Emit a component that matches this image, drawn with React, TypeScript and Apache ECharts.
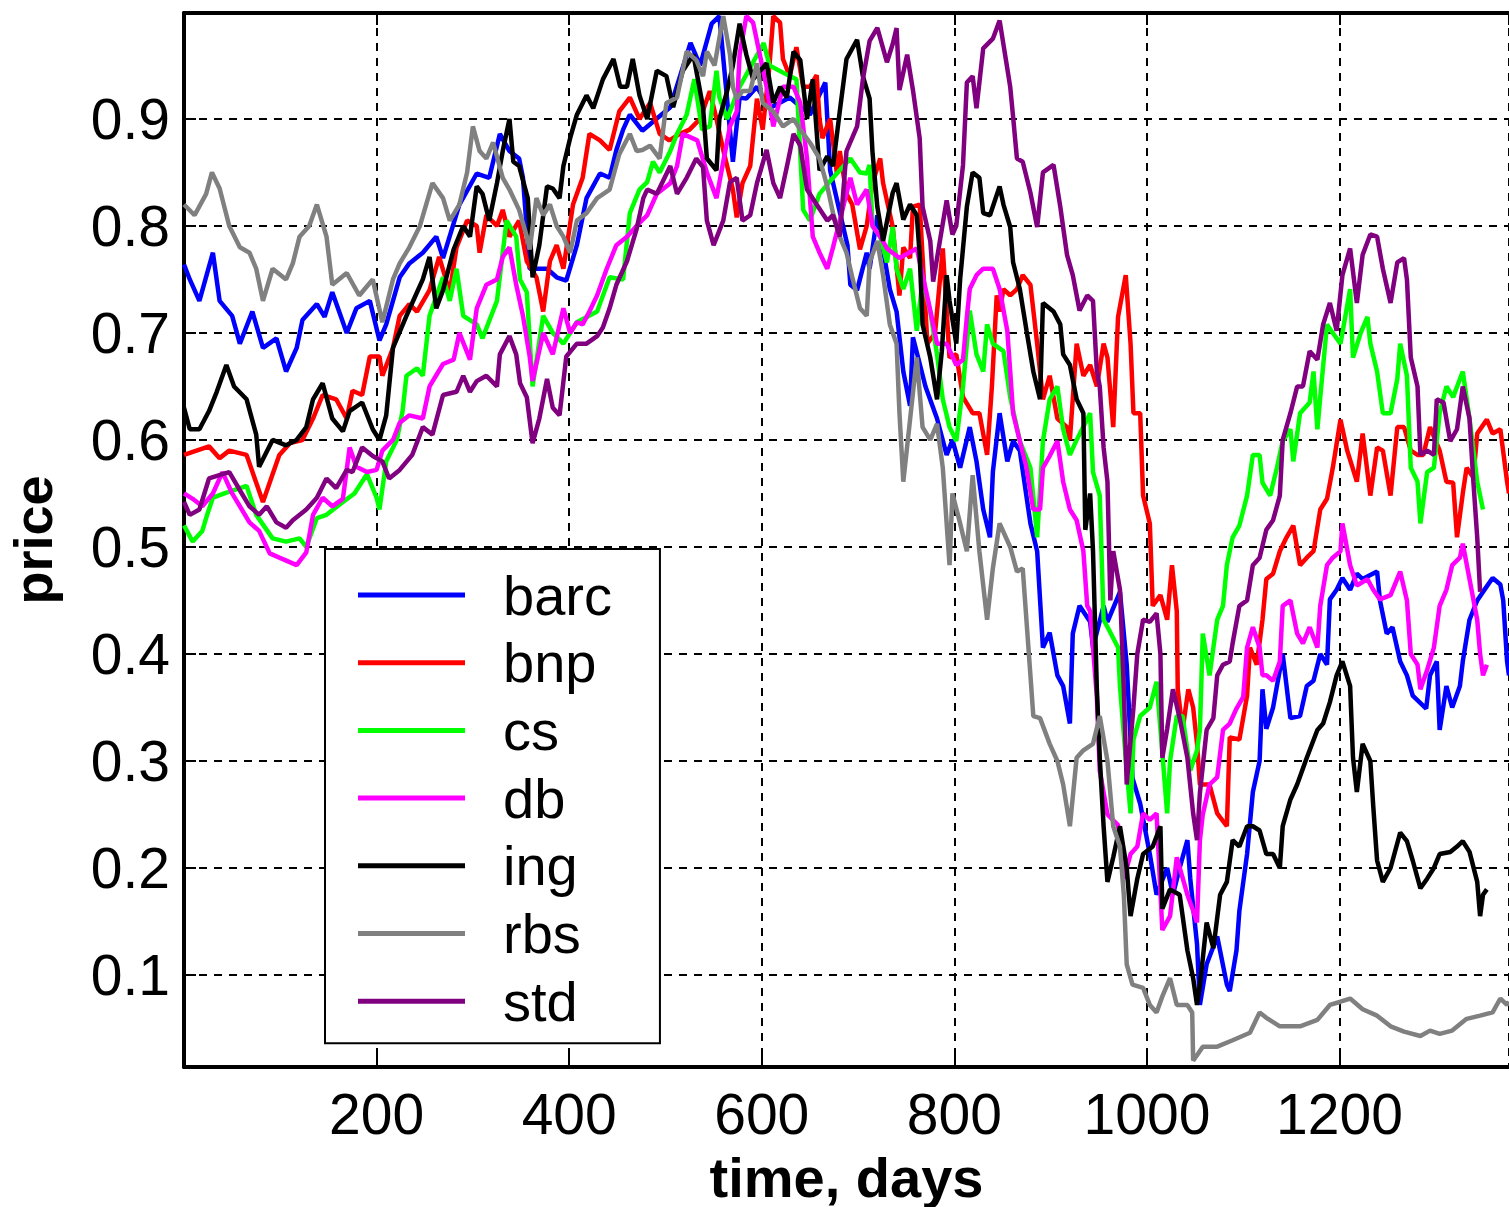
import React, { useEffect, useRef } from "react";
import * as echarts from "echarts";

const names = ["barc", "bnp", "cs", "db", "ing", "rbs", "std"];
const colors = ["#0000ff", "#ff0000", "#00ff00", "#ff00ff", "#000000", "#808080", "#800080"];
const xTicks = [200, 400, 600, 800, 1000, 1200];
const yTicks = [0.1, 0.2, 0.3, 0.4, 0.5, 0.6, 0.7, 0.8, 0.9];

const barc = [[0,0.764],[6,0.75],[16,0.73],[30,0.775],[37,0.73],[50,0.716],[58,0.69],[71,0.72],[82,0.686],[96,0.695],[106,0.664],[117,0.686],[123,0.712],[138,0.727],[146,0.715],[154,0.738],[169,0.70],[179,0.723],[193,0.73],[203,0.693],[210,0.708],[224,0.752],[234,0.765],[248,0.775],[262,0.79],[269,0.77],[286,0.82],[304,0.849],[317,0.845],[328,0.886],[338,0.87],[348,0.863],[352,0.845],[359,0.76],[377,0.76],[387,0.752],[397,0.749],[408,0.782],[418,0.826],[432,0.849],[442,0.845],[449,0.871],[456,0.89],[463,0.904],[476,0.889],[505,0.911],[526,0.971],[536,0.95],[548,0.989],[556,0.996],[570,0.86],[577,0.92],[584,0.919],[595,0.93],[608,0.91],[629,0.92],[650,0.904],[666,0.934],[671,0.852],[689,0.782],[692,0.745],[699,0.74],[709,0.775],[712,0.76],[720,0.81],[733,0.741],[740,0.72],[747,0.664],[754,0.632],[757,0.696],[770,0.65],[782,0.62],[792,0.586],[798,0.6],[806,0.574],[816,0.612],[823,0.58],[830,0.535],[837,0.509],[840,0.57],[847,0.625],[855,0.58],[861,0.599],[868,0.59],[879,0.522],[886,0.496],[892,0.406],[899,0.42],[907,0.38],[913,0.37],[920,0.335],[923,0.419],[930,0.445],[941,0.43],[944,0.406],[955,0.445],[959,0.43],[972,0.458],[979,0.39],[985,0.284],[993,0.26],[1003,0.213],[1010,0.175],[1021,0.2],[1027,0.175],[1034,0.2],[1042,0.226],[1045,0.19],[1052,0.129],[1055,0.072],[1062,0.11],[1073,0.136],[1083,0.091],[1086,0.085],[1093,0.123],[1096,0.16],[1104,0.213],[1110,0.271],[1117,0.3],[1120,0.367],[1124,0.33],[1131,0.35],[1141,0.40],[1149,0.34],[1159,0.342],[1166,0.37],[1173,0.375],[1180,0.40],[1187,0.39],[1190,0.451],[1197,0.46],[1203,0.471],[1211,0.46],[1218,0.475],[1224,0.47],[1239,0.477],[1242,0.45],[1249,0.419],[1255,0.425],[1263,0.393],[1270,0.38],[1276,0.361],[1283,0.355],[1290,0.349],[1294,0.38],[1301,0.393],[1304,0.329],[1311,0.37],[1317,0.35],[1325,0.37],[1328,0.393],[1335,0.432],[1343,0.45],[1349,0.458],[1359,0.471],[1367,0.465],[1370,0.45],[1374,0.393],[1376,0.38]];

const bnp = [[0,0.586],[13,0.59],[26,0.594],[37,0.583],[47,0.59],[65,0.586],[75,0.56],[82,0.542],[92,0.568],[99,0.586],[110,0.597],[123,0.60],[134,0.62],[144,0.642],[158,0.638],[169,0.62],[175,0.646],[185,0.642],[193,0.678],[203,0.678],[206,0.66],[217,0.686],[224,0.716],[234,0.727],[242,0.72],[255,0.74],[265,0.771],[276,0.738],[283,0.78],[294,0.805],[304,0.80],[307,0.775],[314,0.81],[325,0.80],[331,0.815],[338,0.79],[348,0.805],[356,0.767],[366,0.752],[373,0.72],[380,0.767],[387,0.782],[394,0.76],[404,0.82],[414,0.845],[421,0.886],[432,0.88],[442,0.871],[452,0.907],[463,0.92],[473,0.90],[484,0.915],[494,0.886],[504,0.88],[515,0.886],[525,0.89],[536,0.90],[546,0.926],[553,0.90],[560,0.871],[570,0.834],[574,0.808],[580,0.84],[588,0.856],[595,0.919],[601,0.89],[608,0.95],[612,0.996],[619,0.99],[622,0.956],[629,0.94],[636,0.967],[643,0.93],[650,0.93],[657,0.941],[660,0.90],[663,0.882],[671,0.90],[678,0.849],[681,0.87],[688,0.83],[694,0.82],[702,0.778],[709,0.80],[715,0.84],[723,0.863],[726,0.84],[736,0.799],[743,0.735],[747,0.78],[754,0.77],[757,0.818],[764,0.82],[772,0.69],[780,0.70],[788,0.779],[795,0.677],[802,0.68],[809,0.64],[819,0.625],[826,0.625],[834,0.586],[839,0.65],[844,0.735],[847,0.72],[851,0.741],[858,0.735],[865,0.741],[871,0.754],[879,0.745],[886,0.69],[892,0.638],[899,0.66],[907,0.62],[917,0.612],[920,0.60],[927,0.69],[934,0.66],[941,0.67],[948,0.65],[955,0.69],[959,0.677],[965,0.612],[970,0.715],[978,0.754],[983,0.69],[986,0.625],[993,0.625],[996,0.548],[1003,0.522],[1006,0.445],[1014,0.455],[1021,0.432],[1026,0.483],[1031,0.44],[1032,0.367],[1037,0.329],[1043,0.367],[1048,0.35],[1052,0.316],[1055,0.278],[1065,0.278],[1073,0.251],[1083,0.239],[1086,0.322],[1096,0.32],[1104,0.361],[1107,0.406],[1114,0.39],[1120,0.432],[1124,0.47],[1131,0.475],[1138,0.496],[1145,0.509],[1152,0.52],[1159,0.483],[1166,0.49],[1173,0.496],[1180,0.535],[1187,0.545],[1193,0.574],[1201,0.619],[1208,0.59],[1218,0.561],[1224,0.606],[1232,0.548],[1239,0.593],[1245,0.59],[1253,0.548],[1260,0.612],[1267,0.612],[1274,0.59],[1281,0.586],[1287,0.586],[1294,0.612],[1304,0.59],[1311,0.561],[1318,0.56],[1322,0.509],[1328,0.55],[1332,0.574],[1339,0.565],[1343,0.606],[1353,0.619],[1359,0.606],[1367,0.61],[1374,0.561],[1376,0.55]];

const cs = [[0,0.52],[9,0.505],[19,0.515],[24,0.53],[30,0.546],[42,0.55],[65,0.557],[75,0.53],[92,0.508],[106,0.505],[120,0.508],[127,0.50],[138,0.527],[148,0.53],[162,0.54],[177,0.55],[190,0.568],[200,0.546],[203,0.535],[210,0.58],[221,0.60],[227,0.627],[231,0.66],[242,0.667],[248,0.66],[255,0.716],[269,0.752],[276,0.73],[283,0.76],[290,0.716],[304,0.708],[310,0.695],[325,0.73],[335,0.805],[345,0.79],[349,0.75],[356,0.738],[362,0.65],[373,0.716],[383,0.70],[394,0.69],[408,0.71],[429,0.72],[442,0.752],[456,0.75],[463,0.812],[473,0.834],[481,0.841],[487,0.86],[494,0.85],[505,0.87],[512,0.886],[522,0.904],[530,0.937],[538,0.89],[546,0.893],[553,0.945],[556,0.92],[564,0.90],[577,0.93],[602,0.971],[608,0.95],[629,0.94],[636,0.937],[643,0.815],[650,0.805],[660,0.83],[674,0.845],[692,0.863],[702,0.85],[709,0.849],[712,0.857],[715,0.80],[723,0.79],[730,0.766],[736,0.799],[740,0.76],[747,0.741],[754,0.76],[761,0.702],[767,0.75],[775,0.72],[782,0.68],[788,0.638],[795,0.612],[802,0.599],[809,0.65],[816,0.721],[823,0.68],[830,0.664],[834,0.708],[840,0.69],[851,0.683],[858,0.64],[868,0.599],[879,0.574],[886,0.509],[892,0.599],[899,0.638],[907,0.65],[913,0.61],[920,0.586],[927,0.60],[941,0.625],[944,0.57],[951,0.548],[955,0.432],[962,0.42],[970,0.406],[972,0.37],[979,0.291],[983,0.251],[986,0.32],[993,0.342],[1003,0.35],[1010,0.374],[1014,0.33],[1021,0.251],[1024,0.30],[1031,0.342],[1037,0.342],[1042,0.31],[1045,0.291],[1052,0.31],[1055,0.329],[1058,0.419],[1065,0.38],[1073,0.432],[1079,0.445],[1083,0.483],[1089,0.509],[1096,0.52],[1104,0.548],[1110,0.586],[1117,0.586],[1120,0.56],[1128,0.548],[1135,0.574],[1141,0.599],[1149,0.61],[1152,0.58],[1159,0.625],[1169,0.635],[1173,0.664],[1177,0.61],[1180,0.64],[1187,0.708],[1193,0.70],[1201,0.69],[1203,0.70],[1211,0.741],[1214,0.677],[1222,0.70],[1229,0.715],[1232,0.69],[1239,0.664],[1245,0.625],[1253,0.625],[1260,0.657],[1263,0.69],[1270,0.66],[1274,0.574],[1281,0.561],[1284,0.522],[1291,0.57],[1298,0.574],[1304,0.625],[1311,0.65],[1318,0.64],[1328,0.664],[1335,0.62],[1343,0.561],[1349,0.535]];

const db = [[0,0.55],[9,0.545],[19,0.538],[30,0.55],[40,0.57],[50,0.55],[68,0.523],[78,0.515],[89,0.494],[99,0.49],[117,0.483],[127,0.495],[134,0.53],[144,0.546],[154,0.538],[165,0.545],[172,0.593],[179,0.575],[190,0.57],[200,0.572],[206,0.59],[217,0.60],[224,0.616],[234,0.623],[248,0.62],[255,0.65],[269,0.671],[280,0.675],[286,0.70],[297,0.675],[304,0.723],[314,0.745],[325,0.75],[331,0.771],[338,0.78],[345,0.745],[352,0.716],[359,0.678],[362,0.655],[373,0.70],[383,0.68],[394,0.723],[401,0.70],[408,0.71],[414,0.708],[421,0.72],[429,0.735],[439,0.76],[449,0.782],[460,0.79],[470,0.80],[481,0.81],[491,0.83],[505,0.84],[512,0.856],[518,0.886],[533,0.88],[543,0.85],[553,0.826],[560,0.86],[567,0.893],[574,0.907],[577,0.96],[584,0.996],[591,0.99],[598,0.96],[605,0.93],[612,0.893],[622,0.93],[633,0.93],[640,0.915],[647,0.863],[653,0.79],[660,0.775],[668,0.76],[674,0.78],[681,0.805],[692,0.845],[699,0.82],[709,0.834],[715,0.80],[723,0.79],[730,0.779],[743,0.77],[761,0.779],[775,0.721],[782,0.69],[792,0.69],[802,0.67],[809,0.675],[813,0.715],[816,0.741],[823,0.754],[830,0.76],[840,0.76],[847,0.741],[855,0.702],[858,0.664],[861,0.625],[868,0.599],[875,0.574],[882,0.535],[889,0.535],[892,0.574],[899,0.585],[907,0.599],[913,0.561],[920,0.535],[927,0.525],[934,0.496],[938,0.445],[941,0.44],[948,0.36],[951,0.291],[959,0.25],[970,0.24],[976,0.19],[983,0.213],[990,0.22],[996,0.251],[1003,0.245],[1010,0.251],[1016,0.142],[1024,0.155],[1031,0.21],[1042,0.175],[1048,0.16],[1052,0.149],[1055,0.226],[1058,0.25],[1065,0.278],[1073,0.285],[1079,0.329],[1086,0.335],[1093,0.349],[1100,0.36],[1104,0.406],[1110,0.425],[1117,0.406],[1120,0.38],[1124,0.38],[1131,0.375],[1138,0.393],[1141,0.445],[1149,0.45],[1156,0.419],[1162,0.41],[1169,0.425],[1177,0.406],[1180,0.445],[1187,0.483],[1193,0.49],[1201,0.496],[1203,0.522],[1211,0.483],[1218,0.464],[1229,0.47],[1235,0.46],[1242,0.451],[1253,0.455],[1263,0.477],[1270,0.45],[1274,0.40],[1281,0.39],[1284,0.367],[1291,0.385],[1298,0.406],[1304,0.445],[1311,0.46],[1317,0.483],[1325,0.49],[1328,0.503],[1335,0.47],[1343,0.432],[1346,0.40],[1349,0.38],[1353,0.39]];

const ing = [[0,0.63],[6,0.61],[16,0.61],[26,0.627],[34,0.645],[44,0.67],[52,0.65],[65,0.638],[75,0.605],[78,0.575],[92,0.60],[106,0.595],[117,0.60],[127,0.612],[134,0.638],[144,0.653],[154,0.62],[165,0.608],[172,0.627],[185,0.635],[196,0.61],[203,0.60],[210,0.623],[217,0.686],[231,0.716],[242,0.738],[248,0.75],[255,0.771],[262,0.723],[269,0.74],[280,0.778],[290,0.80],[297,0.79],[304,0.837],[310,0.83],[317,0.805],[325,0.84],[331,0.87],[338,0.90],[342,0.86],[348,0.856],[357,0.826],[362,0.752],[369,0.782],[377,0.837],[383,0.835],[390,0.826],[394,0.856],[401,0.882],[408,0.904],[418,0.922],[425,0.91],[435,0.937],[446,0.956],[453,0.93],[460,0.93],[466,0.956],[473,0.922],[481,0.90],[491,0.945],[501,0.94],[508,0.911],[518,0.945],[529,0.96],[539,0.911],[543,0.863],[553,0.852],[556,0.90],[564,0.926],[570,0.95],[577,0.989],[584,0.96],[591,0.937],[605,0.952],[612,0.915],[619,0.93],[626,0.92],[633,0.963],[640,0.955],[647,0.90],[653,0.937],[660,0.852],[668,0.865],[674,0.856],[681,0.907],[688,0.956],[699,0.974],[705,0.94],[712,0.919],[715,0.869],[720,0.818],[726,0.786],[736,0.831],[740,0.84],[747,0.806],[754,0.82],[761,0.81],[764,0.773],[767,0.708],[775,0.677],[782,0.638],[787,0.683],[792,0.754],[795,0.73],[802,0.69],[806,0.75],[813,0.818],[819,0.85],[826,0.845],[830,0.812],[837,0.81],[847,0.837],[851,0.82],[858,0.799],[861,0.766],[868,0.741],[875,0.702],[882,0.664],[889,0.638],[892,0.728],[903,0.72],[910,0.708],[913,0.68],[920,0.67],[927,0.638],[934,0.625],[936,0.516],[941,0.55],[944,0.496],[948,0.367],[951,0.303],[955,0.239],[959,0.187],[965,0.21],[972,0.239],[979,0.2],[983,0.155],[990,0.19],[996,0.213],[1006,0.22],[1014,0.239],[1016,0.162],[1024,0.18],[1034,0.175],[1042,0.123],[1048,0.097],[1052,0.072],[1055,0.09],[1062,0.149],[1069,0.125],[1076,0.175],[1083,0.187],[1089,0.226],[1096,0.22],[1104,0.239],[1110,0.239],[1117,0.235],[1124,0.213],[1131,0.213],[1138,0.20],[1141,0.239],[1149,0.264],[1156,0.278],[1166,0.303],[1177,0.329],[1183,0.335],[1190,0.355],[1197,0.38],[1203,0.393],[1211,0.37],[1214,0.303],[1218,0.271],[1224,0.316],[1232,0.30],[1235,0.258],[1239,0.207],[1245,0.187],[1253,0.20],[1263,0.233],[1270,0.225],[1276,0.207],[1284,0.181],[1291,0.19],[1298,0.20],[1304,0.213],[1315,0.215],[1322,0.22],[1328,0.225],[1335,0.215],[1343,0.187],[1346,0.155],[1349,0.175],[1353,0.18]];

const rbs = [[0,0.82],[11,0.81],[23,0.83],[29,0.85],[37,0.835],[47,0.80],[58,0.78],[68,0.775],[75,0.76],[82,0.73],[92,0.76],[106,0.75],[113,0.765],[120,0.79],[130,0.80],[138,0.82],[148,0.79],[154,0.745],[169,0.756],[182,0.735],[196,0.75],[206,0.71],[217,0.75],[224,0.765],[234,0.78],[245,0.80],[258,0.84],[269,0.826],[276,0.805],[286,0.82],[294,0.85],[300,0.893],[307,0.87],[314,0.863],[321,0.878],[331,0.845],[338,0.834],[348,0.815],[356,0.79],[359,0.778],[366,0.826],[373,0.81],[380,0.82],[387,0.80],[394,0.79],[401,0.775],[408,0.805],[418,0.812],[429,0.826],[442,0.834],[452,0.867],[463,0.886],[470,0.87],[476,0.871],[484,0.875],[494,0.863],[501,0.915],[512,0.92],[522,0.963],[532,0.955],[539,0.94],[543,0.963],[551,0.95],[560,0.996],[567,0.96],[570,0.93],[574,0.919],[580,0.926],[588,0.926],[595,0.952],[601,0.915],[612,0.907],[622,0.893],[633,0.90],[640,0.89],[650,0.878],[660,0.863],[668,0.837],[674,0.812],[681,0.79],[688,0.775],[694,0.752],[702,0.723],[709,0.716],[712,0.766],[720,0.786],[726,0.754],[733,0.708],[740,0.69],[743,0.625],[747,0.561],[754,0.619],[761,0.677],[767,0.612],[775,0.60],[782,0.615],[788,0.574],[795,0.483],[798,0.55],[806,0.522],[813,0.496],[819,0.567],[826,0.496],[834,0.432],[840,0.48],[847,0.522],[858,0.50],[865,0.477],[871,0.48],[879,0.38],[882,0.342],[889,0.34],[899,0.316],[907,0.30],[913,0.278],[920,0.239],[927,0.303],[934,0.31],[944,0.316],[951,0.342],[959,0.30],[965,0.239],[972,0.22],[976,0.175],[979,0.11],[985,0.091],[996,0.088],[1003,0.072],[1010,0.065],[1016,0.08],[1024,0.097],[1031,0.072],[1042,0.072],[1047,0.065],[1048,0.02],[1052,0.025],[1058,0.033],[1073,0.033],[1089,0.039],[1107,0.046],[1117,0.065],[1124,0.06],[1138,0.052],[1159,0.052],[1177,0.058],[1190,0.072],[1201,0.075],[1211,0.078],[1224,0.068],[1239,0.062],[1253,0.052],[1267,0.047],[1284,0.043],[1294,0.048],[1304,0.045],[1317,0.048],[1332,0.059],[1346,0.062],[1359,0.065],[1367,0.078],[1374,0.072],[1376,0.075]];

const std = [[0,0.542],[6,0.53],[16,0.535],[26,0.564],[40,0.568],[47,0.57],[58,0.553],[68,0.538],[78,0.53],[86,0.538],[96,0.523],[106,0.518],[113,0.525],[127,0.535],[138,0.546],[148,0.564],[158,0.555],[169,0.572],[175,0.57],[185,0.593],[196,0.585],[206,0.58],[213,0.564],[224,0.572],[237,0.586],[248,0.612],[258,0.605],[269,0.642],[283,0.645],[290,0.66],[297,0.645],[304,0.655],[314,0.66],[325,0.65],[328,0.68],[338,0.697],[345,0.68],[349,0.653],[356,0.64],[362,0.597],[369,0.62],[377,0.657],[383,0.63],[390,0.623],[397,0.678],[408,0.69],[418,0.69],[429,0.697],[435,0.705],[442,0.723],[449,0.745],[460,0.767],[470,0.797],[477,0.826],[481,0.834],[491,0.83],[505,0.856],[512,0.83],[522,0.845],[532,0.863],[539,0.855],[543,0.805],[550,0.782],[560,0.805],[567,0.841],[574,0.845],[580,0.805],[588,0.81],[595,0.84],[605,0.871],[612,0.84],[619,0.826],[626,0.855],[633,0.886],[640,0.875],[647,0.834],[657,0.82],[668,0.805],[674,0.81],[681,0.79],[688,0.87],[699,0.893],[705,0.937],[712,0.973],[720,0.985],[730,0.953],[736,0.97],[740,0.985],[743,0.927],[751,0.96],[757,0.927],[764,0.882],[767,0.818],[775,0.786],[778,0.748],[785,0.786],[792,0.824],[798,0.792],[802,0.80],[809,0.857],[813,0.934],[819,0.94],[823,0.91],[830,0.966],[840,0.975],[847,0.992],[855,0.947],[858,0.93],[861,0.902],[865,0.863],[871,0.86],[879,0.831],[886,0.799],[892,0.85],[903,0.857],[910,0.818],[917,0.773],[923,0.754],[930,0.721],[938,0.735],[944,0.73],[948,0.664],[951,0.65],[955,0.593],[959,0.561],[962,0.45],[965,0.496],[972,0.46],[976,0.367],[979,0.278],[986,0.35],[990,0.40],[996,0.432],[1003,0.43],[1010,0.438],[1014,0.40],[1016,0.303],[1021,0.33],[1027,0.367],[1034,0.34],[1042,0.303],[1048,0.251],[1052,0.226],[1055,0.27],[1062,0.329],[1069,0.34],[1073,0.38],[1079,0.39],[1086,0.393],[1089,0.41],[1096,0.445],[1104,0.45],[1110,0.483],[1117,0.49],[1124,0.516],[1131,0.525],[1138,0.548],[1141,0.60],[1149,0.625],[1156,0.65],[1162,0.65],[1169,0.683],[1177,0.675],[1183,0.708],[1190,0.728],[1197,0.702],[1203,0.754],[1211,0.779],[1218,0.728],[1224,0.773],[1232,0.792],[1239,0.79],[1245,0.76],[1253,0.728],[1260,0.766],[1267,0.77],[1270,0.75],[1274,0.677],[1281,0.65],[1284,0.586],[1291,0.59],[1298,0.586],[1301,0.638],[1308,0.635],[1315,0.599],[1322,0.61],[1328,0.65],[1335,0.62],[1339,0.561],[1343,0.509],[1346,0.458]];

const seriesData = [barc, bnp, cs, db, ing, rbs, std];

const FONT = "'Liberation Sans', Arial, Helvetica, sans-serif";

export default function App() {
  const ref = useRef<HTMLDivElement>(null);
  useEffect(() => {
    document.body.style.margin = "0";
    const chart = echarts.init(ref.current!, null, { renderer: "svg" });
    const yLab = (v: number) => {
      const hit = yTicks.find((t) => Math.abs(t - v) < 1e-6);
      return hit !== undefined ? hit.toFixed(1) : "";
    };
    const xLab = (v: number) => (xTicks.indexOf(Math.round(v)) >= 0 && Math.abs(v - Math.round(v)) < 1e-6 ? String(Math.round(v)) : "");
    chart.setOption({
      animation: false,
      backgroundColor: "#ffffff",
      grid: { left: 184, top: 13, right: 0, bottom: 140, containLabel: false, outerBoundsMode: "none" },
      xAxis: [
        {
          type: "value",
          min: 0,
          max: 1376,
          interval: 200,
          name: "time, days",
          nameLocation: "middle",
          nameGap: 82,
          nameTextStyle: { fontFamily: FONT, fontSize: 56, fontWeight: "bold", color: "#000" },
          axisLine: { show: true, lineStyle: { color: "#000", width: 4 } },
          axisTick: { show: true, inside: true, length: 12, lineStyle: { color: "#000", width: 2 } },
          axisLabel: { formatter: xLab, fontFamily: FONT, fontSize: 57, color: "#000", margin: 18, showMinLabel: false, showMaxLabel: false },
          splitLine: { show: true, lineStyle: { color: "#000", width: 2, type: [8, 7] } },
        },
        {
          type: "value",
          position: "top",
          min: 0,
          max: 1376,
          interval: 200,
          axisLine: { show: true, lineStyle: { color: "#000", width: 4 } },
          axisTick: { show: true, inside: true, length: 12, lineStyle: { color: "#000", width: 2 } },
          axisLabel: { show: false },
          splitLine: { show: false },
        },
      ],
      yAxis: {
        type: "value",
        min: 0.014,
        max: 0.999,
        splitNumber: 10,
        name: "price",
        nameLocation: "middle",
        nameGap: 124,
        nameTextStyle: { fontFamily: FONT, fontSize: 54, fontWeight: "bold", color: "#000" },
        axisLine: { show: true, lineStyle: { color: "#000", width: 4 } },
        axisTick: { show: true, inside: true, length: 12, lineStyle: { color: "#000", width: 2 } },
        axisLabel: { formatter: yLab, fontFamily: FONT, fontSize: 57, color: "#000", margin: 14, showMinLabel: false, showMaxLabel: false },
        splitLine: { show: true, lineStyle: { color: "#000", width: 2, type: [8, 7] } },
      },
      legend: {
        orient: "vertical",
        left: 325,
        top: 549,
        data: names,
        icon: "rect",
        selectedMode: false,
        backgroundColor: "#ffffff",
        borderColor: "#000",
        borderWidth: 2,
        borderRadius: 0,
        padding: [18, 48, 14, 33],
        itemWidth: 107,
        itemHeight: 5,
        itemGap: 11.7,
        textStyle: { fontFamily: FONT, fontSize: 56, lineHeight: 56, color: "#000", padding: [0, 0, 0, 33] },
      },
      series: names.map((n, i) => ({
        name: n,
        type: "line",
        data: seriesData[i],
        symbol: "none",
        showSymbol: false,
        color: colors[i],
        itemStyle: { color: colors[i] },
        lineStyle: { color: colors[i], width: 4.5 },
        clip: true,
      })),
    });
    return () => chart.dispose();
  }, []);
  return <div ref={ref} style={{ position: "absolute", left: 0, top: 0, width: 1509, height: 1207 }} />;
}
